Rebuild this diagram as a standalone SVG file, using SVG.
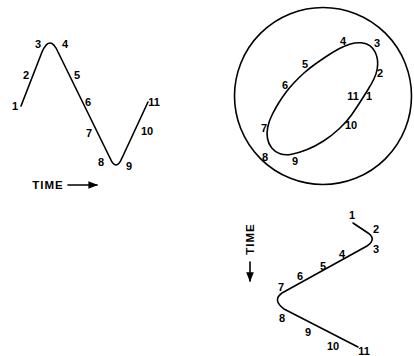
<svg xmlns="http://www.w3.org/2000/svg" width="414" height="356" viewBox="0 0 414 356">
<style>
.c{fill:none;stroke:#000;stroke-width:1.6;stroke-linejoin:round;stroke-linecap:round}
.t{font-family:"Liberation Sans",Arial,sans-serif;font-size:11px;font-weight:bold;fill:#000;text-anchor:middle}
.w{font-size:11.5px;letter-spacing:1px}
</style>
<defs>
<marker id="ah" viewBox="0 0 10 10" refX="9" refY="5" markerWidth="6" markerHeight="6" orient="auto">
<path d="M0,1 L10,5 L0,9 Z" fill="#000"/>
</marker>
</defs>
<rect width="414" height="356" fill="#fff"/>
<g id="connectors">
<path class="c" d="M21,106 L42,52 Q50,34 58,52 L110,158 Q116,172 122,158 L148,102"/>
<circle class="c" cx="323" cy="96" r="88.5"/>
<path class="c" d="M327,56 Q333,52 339,48.75 Q345,45.5 350.5,43.9 Q356,42.3 361.35,42.8 Q366.7,43.3 370.1,45.9 Q373.5,48.5 375.25,52.25 Q377,56 377.5,60 Q378,64 377.25,68.75 Q376.5,73.5 374,78.75 Q371.5,84 367.75,90 Q364,96 360,102.25 Q356,108.5 351.5,115 Q347,121.5 339.5,128.5 Q332,135.5 323.5,141 Q315,146.5 306.65,149.75 Q298.3,153 291.65,154.25 Q285,155.5 280,153.75 Q275,152 271.75,148 Q268.5,144 267.5,138.5 Q266.5,133 267.75,127 Q269,121 272,115 Q275,109 278.5,103.25 Q282,97.5 286,92.25 Q290,87 294.5,82.25 Q299,77.5 304,73 Q309,68.5 315,64.25 Q321,60 327,56 Z"/>
<path class="c" d="M353,223 L368,233 Q377,239 367,246 L282,293 Q272,300 284,309 L358,347"/>
<line class="c" x1="68" y1="185" x2="97" y2="185" marker-end="url(#ah)"/>
<line class="c" x1="250" y1="262" x2="250" y2="281" marker-end="url(#ah)"/>
</g>
<g id="sine-labels">
<text class="t" x="15" y="110">1</text>
<text class="t" x="26" y="79">2</text>
<text class="t" x="38" y="48">3</text>
<text class="t" x="65" y="48">4</text>
<text class="t" x="77" y="79">5</text>
<text class="t" x="88" y="106">6</text>
<text class="t" x="89" y="137">7</text>
<text class="t" x="101" y="166">8</text>
<text class="t" x="129" y="170">9</text>
<text class="t" x="147" y="135">10</text>
<text class="t" x="154" y="106">11</text>
<text class="t w" x="48" y="189">TIME</text>
</g>
<g id="circle-labels">
<text class="t" x="343" y="45">4</text>
<text class="t" x="377" y="47">3</text>
<text class="t" x="380" y="77">2</text>
<text class="t" x="353" y="100">11</text>
<text class="t" x="369" y="100">1</text>
<text class="t" x="351" y="129">10</text>
<text class="t" x="295" y="165">9</text>
<text class="t" x="265" y="161">8</text>
<text class="t" x="264" y="132">7</text>
<text class="t" x="285" y="89">6</text>
<text class="t" x="305" y="68">5</text>
</g>
<g id="zigzag-labels">
<text class="t" x="352" y="219">1</text>
<text class="t" x="376" y="233">2</text>
<text class="t" x="376" y="253">3</text>
<text class="t" x="342" y="258">4</text>
<text class="t" x="323" y="270">5</text>
<text class="t" x="300" y="280">6</text>
<text class="t" x="281" y="291">7</text>
<text class="t" x="282" y="322">8</text>
<text class="t" x="308" y="336">9</text>
<text class="t" x="333" y="350">10</text>
<text class="t" x="364" y="355">11</text>
<text class="t w" transform="translate(254 239) rotate(-90)">TIME</text>
</g>
</svg>
